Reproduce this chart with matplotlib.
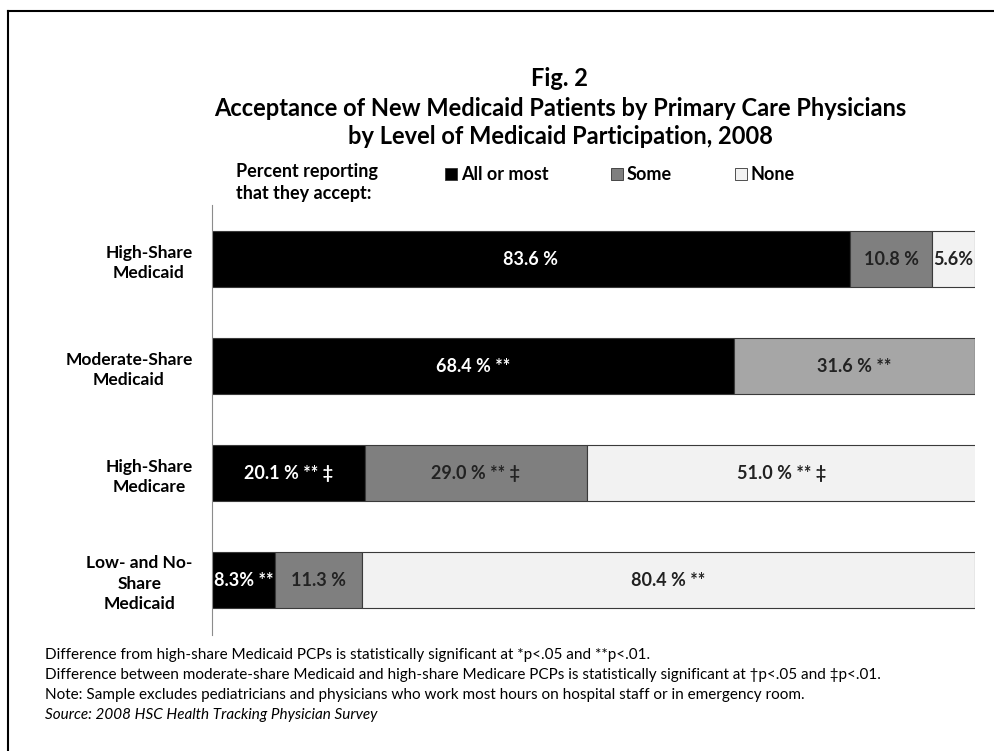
import matplotlib
matplotlib.use('Agg')
import matplotlib.pyplot as plt
from matplotlib.patches import Rectangle

plt.rcParams['font.family'] = ['Lato', 'DejaVu Sans']

# data
groups = ['High-Share\nMedicaid', 'Moderate-Share\nMedicaid',
          'High-Share\nMedicare', 'Low- and No-\nShare\nMedicaid']
all_most = [83.6, 68.4, 20.1, 8.3]
some = [10.8, 31.6, 29.0, 11.3]
none = [5.6, 0.0, 51.0, 80.4]
all_txt = ['83.6 %', '68.4 % **', '20.1 % ** \u2021', '8.3% **']
some_txt = ['10.8 %', '31.6 % **', '29.0 % ** \u2021', '11.3 %']
none_txt = ['5.6%', '', '51.0 % ** \u2021', '80.4 % **']
some_colors = ['#7f7f7f', '#a6a6a6', '#7f7f7f', '#7f7f7f']

fig = plt.figure(figsize=(9.95, 7.51), dpi=100)
W, H = 995, 751

# outer frame (only top and left edges visible)
fig.add_artist(plt.Line2D([8/W, 8/W], [0, 1 - 11/H], color='black', lw=1.5))
fig.add_artist(plt.Line2D([8/W, 1], [1 - 11/H, 1 - 11/H], color='black', lw=1.5))

ax = fig.add_axes([212/W, 1 - 635/H, (975 - 212)/W, (635 - 205)/H])
y = list(range(len(groups)))
h = 0.523
edge = '#3a3a3a'
ax.barh(y, all_most, height=h, color='black', edgecolor=edge, lw=0.8)
ax.barh(y, some, left=all_most, height=h, color=some_colors, edgecolor=edge, lw=0.8)
left3 = [a + b for a, b in zip(all_most, some)]
ax.barh(y, none, left=left3, height=h, color='#f2f2f2', edgecolor=edge, lw=0.8)

fs = 13
for i in y:
    ax.text(all_most[i] / 2, i, all_txt[i], ha='center', va='center',
            color='white', fontsize=fs, fontweight='bold')
    ax.text(all_most[i] + some[i] / 2, i, some_txt[i], ha='center', va='center',
            color='#222222', fontsize=fs, fontweight='bold')
    if none[i] > 0:
        ax.text(left3[i] + none[i] / 2, i, none_txt[i], ha='center', va='center',
                color='#222222', fontsize=fs, fontweight='bold')

ax.set_xlim(0, 100)
ax.set_ylim(3.514, -0.505)
ax.set_xticks([])
ax.set_yticks(y)
ax.set_yticklabels(groups, fontsize=12.5, fontweight='bold', multialignment='center',
                   linespacing=1.35)
ax.tick_params(axis='y', length=0, pad=14)
for s in ['top', 'right', 'bottom']:
    ax.spines[s].set_visible(False)
ax.spines['left'].set_color('#8c8c8c')

# title
tx = 560 / W
fig.text(tx, 1 - 79/H, 'Fig. 2', ha='center', va='center', fontsize=17, fontweight='bold')
fig.text(tx, 1 - 108/H, 'Acceptance of New Medicaid Patients by Primary Care Physicians',
         ha='center', va='center', fontsize=17, fontweight='bold')
fig.text(tx, 1 - 136/H, 'by Level of Medicaid Participation, 2008',
         ha='center', va='center', fontsize=17, fontweight='bold')

# legend
fig.text(236/W, 1 - 171/H, 'Percent reporting', ha='left', va='center', fontsize=13, fontweight='bold')
fig.text(236/W, 1 - 193/H, 'that they accept:', ha='left', va='center', fontsize=13, fontweight='bold')
leg = [('All or most', 'black', 445), ('Some', '#7f7f7f', 611), ('None', '#f2f2f2', 735)]
for name, col, x0 in leg:
    fig.add_artist(Rectangle((x0/W, 1 - 180/H), 12/W, 12/H, facecolor=col,
                             edgecolor='#333333', lw=0.6))
    fig.text((x0 + 16)/W, 1 - 174/H, name, ha='left', va='center', fontsize=13, fontweight='bold')

# footnotes
notes = ['Difference from high-share Medicaid PCPs is statistically significant at *p<.05 and **p<.01.',
         'Difference between moderate-share Medicaid and high-share Medicare PCPs is statistically significant at \u2020p<.05 and \u2021p<.01.',
         'Note: Sample excludes pediatricians and physicians who work most hours on hospital staff or in emergency room.']
for k, t in enumerate(notes):
    fig.text(45/W, 1 - (655 + 20 * k)/H, t, ha='left', va='center', fontsize=11)
fig.text(45/W, 1 - 715/H, 'Source: 2008 HSC Health Tracking Physician Survey', ha='left', va='center',
         fontsize=11, style='italic')

fig.savefig('out.png', dpi=100)
